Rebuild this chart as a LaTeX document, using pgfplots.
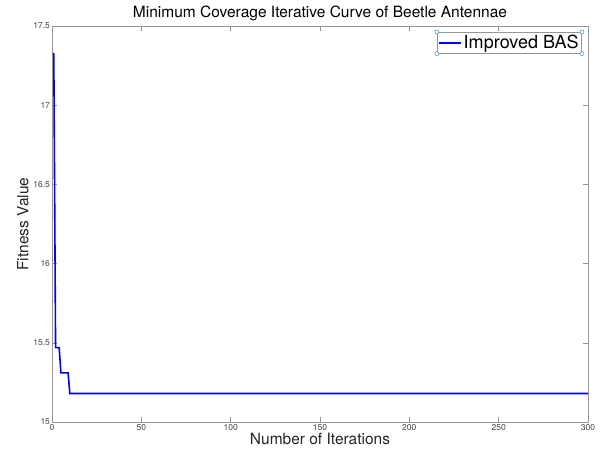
\documentclass[border=0pt]{standalone}
\usepackage{pgfplots}
\pgfplotsset{compat=1.18}
\usepackage{fontspec}
\setmainfont{TeX Gyre Heros}
\definecolor{axgray}{RGB}{150,150,150}
\definecolor{lblgray}{RGB}{70,70,70}
\definecolor{handle}{RGB}{80,150,210}
\begin{document}
\begin{tikzpicture}
\useasboundingbox (-52pt,-36pt) rectangle (550pt,422pt);
\begin{axis}[
  scale only axis,
  width=536pt, height=396pt,
  xmin=0, xmax=300, ymin=15, ymax=17.5,
  xtick={0,50,100,150,200,250,300},
  ytick={15,15.5,16,16.5,17,17.5},
  yticklabels={15,15.5,16,16.5,17,17.5},
  xticklabels={0,50,100,150,200,250,300},
  /pgf/number format/assume math mode=true,
  tick align=inside,
  tick pos=both,
  major tick length=5pt,
  axis line style={axgray, line width=0.8pt},
  every tick/.style={axgray, line width=0.6pt},
  tick label style={font=\fontsize{8.5}{10}\selectfont, text=lblgray},
  xticklabel style={yshift=1pt},
  yticklabel style={xshift=1.5pt},
  title={Minimum Coverage Iterative Curve of Beetle Antennae},
  title style={font=\fontsize{15.5}{18}\selectfont, yshift=-4pt},
  xlabel={Number of Iterations},
  ylabel={Fitness Value},
  xlabel style={font=\fontsize{15.5}{18}\selectfont, text=black!85, yshift=4pt},
  ylabel style={font=\fontsize{15.5}{18}\selectfont, text=black!85, yshift=-2pt},
  legend style={name=leg, at={(1,1)}, anchor=north east, xshift=-6pt, yshift=-6pt,
    draw=axgray, line width=0.6pt, font=\fontsize{18}{20}\selectfont,
    inner xsep=1pt, inner ysep=1pt},
  legend cell align=left,
  legend image code/.code={\draw[#1, line width=1.6pt] (0pt,0pt) -- (22pt,0pt);},
]
\addplot[blue, line width=1.6pt] coordinates {
(1,17.33) (2,15.47) (4,15.47) (5,15.31) (9,15.31) (10,15.18) (300,15.18)
};
\addlegendentry{Improved BAS}
\end{axis}
\foreach \a in {north west, north east, south west, south east}
  \draw[handle, fill=white, line width=0.6pt] (leg.\a) circle (2pt);
\end{tikzpicture}
\end{document}
